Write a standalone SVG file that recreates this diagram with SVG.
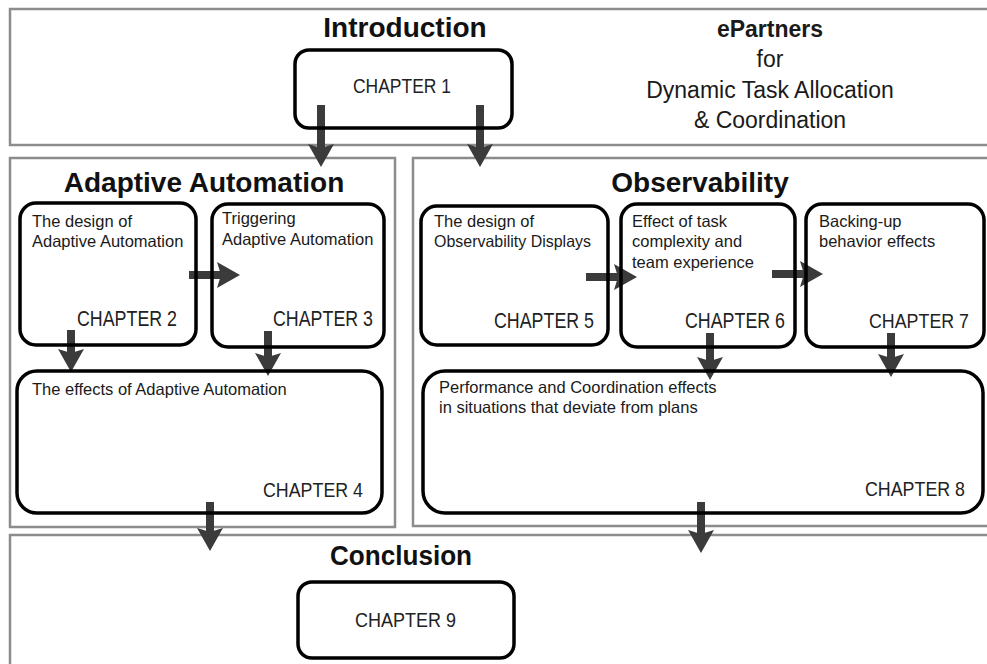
<svg xmlns="http://www.w3.org/2000/svg" width="987" height="664" viewBox="0 0 987 664">
  <style>
    .panel { fill: none; stroke: #8c8c8c; stroke-width: 2.5; }
    .box { fill: none; stroke: #000; stroke-width: 3.5; }
    .hdr { font-family: "Liberation Sans", Arial, sans-serif; font-weight: bold; font-size: 28px; fill: #111; text-anchor: middle; }
    .sub { font-family: "Liberation Sans", Arial, sans-serif; font-size: 23px; fill: #1a1a1a; text-anchor: middle; }
    .body { font-family: "Liberation Sans", Arial, sans-serif; font-size: 16.5px; fill: #1a1a1a; }
    .chap { font-family: "Liberation Sans", Arial, sans-serif; font-size: 22px; fill: #222; }
    .chap-sm { font-family: "Liberation Sans", Arial, sans-serif; font-size: 20px; fill: #222; }
    .conn { stroke: #3b3b3b; stroke-width: 8; fill: none; marker-end: url(#head); }
  </style>
  <defs>
    <marker id="head" markerUnits="userSpaceOnUse" markerWidth="24" markerHeight="26" viewBox="0 0 24 26" refX="4" refY="13" orient="auto" overflow="visible">
      <path d="M0,0 L23,13 L0,26 L4,13 Z" fill="#3b3b3b"/>
    </marker>
  </defs>
  <rect width="987" height="664" fill="#fff"/>

  <!-- section panels -->
  <g id="panel-introduction">
    <rect class="panel" x="10" y="9" width="990" height="136"/>
    <text class="hdr" x="405" y="37">Introduction</text>
    <text class="sub" x="770" y="37" font-weight="bold">ePartners</text>
    <text class="sub" x="770" y="67">for</text>
    <text class="sub" x="770" y="98">Dynamic Task Allocation</text>
    <text class="sub" x="770" y="128">&amp; Coordination</text>
  </g>
  <g id="panel-adaptive">
    <rect class="panel" x="10" y="158" width="385" height="369"/>
    <text class="hdr" x="204" y="192">Adaptive Automation</text>
  </g>
  <g id="panel-observability">
    <rect class="panel" x="413" y="158" width="590" height="368"/>
    <text class="hdr" x="700" y="192">Observability</text>
  </g>
  <g id="panel-conclusion">
    <rect class="panel" x="10" y="535" width="990" height="200"/>
    <text class="hdr" x="401" y="565" textLength="142" lengthAdjust="spacingAndGlyphs">Conclusion</text>
  </g>

  <!-- connectors -->
  <g id="connectors">
    <line class="conn" x1="321" y1="105" x2="321" y2="148"/>
    <line class="conn" x1="480" y1="105" x2="480" y2="148"/>
    <line class="conn" x1="189" y1="275" x2="221" y2="275"/>
    <line class="conn" x1="71" y1="330" x2="71" y2="353"/>
    <line class="conn" x1="268" y1="331" x2="268" y2="357"/>
    <line class="conn" x1="586" y1="277" x2="618" y2="277"/>
    <line class="conn" x1="772" y1="274" x2="804" y2="274"/>
    <line class="conn" x1="710" y1="333" x2="710" y2="361"/>
    <line class="conn" x1="891" y1="333" x2="891" y2="358"/>
    <line class="conn" x1="210" y1="502" x2="210" y2="532"/>
    <line class="conn" x1="701" y1="502" x2="701" y2="534"/>
  </g>

  <!-- chapter nodes -->
  <g id="chapter-1">
    <rect class="box" x="295" y="50" width="217" height="78" rx="14"/>
    <text class="chap-sm" x="353" y="93" textLength="98" lengthAdjust="spacingAndGlyphs">CHAPTER 1</text>
  </g>
  <g id="chapter-2">
    <rect class="box" x="20" y="203" width="176" height="142" rx="16"/>
    <text class="body" x="32" y="227">The design of</text>
    <text class="body" x="32" y="247">Adaptive Automation</text>
    <text class="chap" x="77" y="326" textLength="100" lengthAdjust="spacingAndGlyphs">CHAPTER 2</text>
  </g>
  <g id="chapter-3">
    <rect class="box" x="212" y="204" width="172" height="143" rx="16"/>
    <text class="body" x="222" y="224">Triggering</text>
    <text class="body" x="222" y="245">Adaptive Automation</text>
    <text class="chap" x="273" y="326" textLength="100" lengthAdjust="spacingAndGlyphs">CHAPTER 3</text>
  </g>
  <g id="chapter-4">
    <rect class="box" x="17" y="371" width="365" height="142" rx="20"/>
    <text class="body" x="32" y="395">The effects of Adaptive Automation</text>
    <text class="chap-sm" x="263" y="497" textLength="100" lengthAdjust="spacingAndGlyphs">CHAPTER 4</text>
  </g>
  <g id="chapter-5">
    <rect class="box" x="421" y="206" width="187" height="139" rx="16"/>
    <text class="body" x="434" y="227">The design of</text>
    <text class="body" x="434" y="247" textLength="157" lengthAdjust="spacingAndGlyphs">Observability Displays</text>
    <text class="chap" x="494" y="328" textLength="100" lengthAdjust="spacingAndGlyphs">CHAPTER 5</text>
  </g>
  <g id="chapter-6">
    <rect class="box" x="621" y="204" width="174" height="143" rx="16"/>
    <text class="body" x="632" y="227">Effect of task</text>
    <text class="body" x="632" y="247">complexity and</text>
    <text class="body" x="632" y="268">team experience</text>
    <text class="chap" x="685" y="328" textLength="100" lengthAdjust="spacingAndGlyphs">CHAPTER 6</text>
  </g>
  <g id="chapter-7">
    <rect class="box" x="806" y="204" width="178" height="143" rx="16"/>
    <text class="body" x="819" y="227">Backing-up</text>
    <text class="body" x="819" y="247">behavior effects</text>
    <text class="chap-sm" x="869" y="328" textLength="100" lengthAdjust="spacingAndGlyphs">CHAPTER 7</text>
  </g>
  <g id="chapter-8">
    <rect class="box" x="423" y="371" width="560" height="142" rx="22"/>
    <text class="body" x="439" y="393">Performance and Coordination effects</text>
    <text class="body" x="439" y="413">in situations that deviate from plans</text>
    <text class="chap-sm" x="865" y="496" textLength="100" lengthAdjust="spacingAndGlyphs">CHAPTER 8</text>
  </g>
  <g id="chapter-9">
    <rect class="box" x="298" y="582" width="216" height="76" rx="14"/>
    <text class="chap-sm" x="355" y="627" textLength="101" lengthAdjust="spacingAndGlyphs">CHAPTER 9</text>
  </g>
</svg>
